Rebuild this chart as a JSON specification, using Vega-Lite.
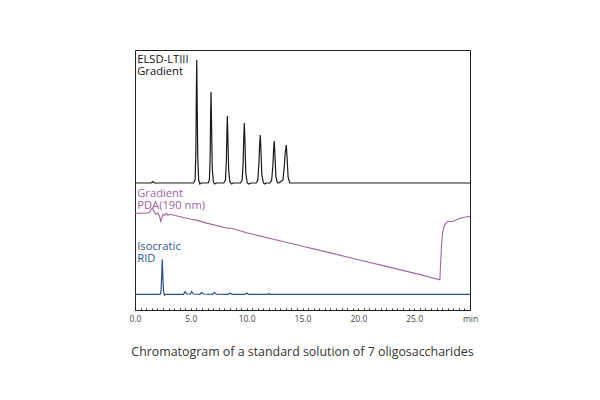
{
  "$schema": "https://vega.github.io/schema/vega-lite/v6.json",
  "width": 335,
  "height": 260,
  "autosize": {"type": "none"},
  "padding": {"left": 135, "top": 50, "right": 130, "bottom": 90},
  "background": "white",
  "config": {"view": {"stroke": "#222222", "strokeWidth": 1}, "font": "Open Sans"},
  "title": {"text": "Chromatogram of a standard solution of 7 oligosaccharides", "orient": "bottom", "anchor": "middle", "fontSize": 12.4, "fontWeight": "normal", "color": "#333333", "offset": 23, "font": "Open Sans"},
  "datasets": {
    "elsd": [
      {"t": 0, "v": 0}, {"t": 1.45, "v": 0}, {"t": 1.6, "v": 1.5}, {"t": 1.75, "v": 0},
      {"t": 5.25, "v": 0}, {"t": 5.38, "v": 3}, {"t": 5.45, "v": 30}, {"t": 5.49, "v": 85}, {"t": 5.53, "v": 123}, {"t": 5.57, "v": 80}, {"t": 5.62, "v": 25}, {"t": 5.7, "v": 3}, {"t": 5.8, "v": -1}, {"t": 5.95, "v": 0},
      {"t": 6.55, "v": 0}, {"t": 6.66, "v": 3}, {"t": 6.73, "v": 25}, {"t": 6.77, "v": 65}, {"t": 6.81, "v": 91}, {"t": 6.86, "v": 55}, {"t": 6.92, "v": 15}, {"t": 7.02, "v": 1}, {"t": 7.15, "v": -1}, {"t": 7.3, "v": 0},
      {"t": 7.95, "v": 0}, {"t": 8.1, "v": 3}, {"t": 8.18, "v": 22}, {"t": 8.23, "v": 50}, {"t": 8.27, "v": 67}, {"t": 8.32, "v": 45}, {"t": 8.39, "v": 12}, {"t": 8.5, "v": 1}, {"t": 8.65, "v": -1}, {"t": 8.8, "v": 0},
      {"t": 9.45, "v": 0}, {"t": 9.6, "v": 3}, {"t": 9.69, "v": 22}, {"t": 9.74, "v": 45}, {"t": 9.79, "v": 60}, {"t": 9.85, "v": 40}, {"t": 9.92, "v": 10}, {"t": 10.05, "v": 0}, {"t": 10.2, "v": -1}, {"t": 10.4, "v": 0},
      {"t": 10.85, "v": 0}, {"t": 11.0, "v": 3}, {"t": 11.1, "v": 20}, {"t": 11.16, "v": 38}, {"t": 11.22, "v": 48}, {"t": 11.28, "v": 32}, {"t": 11.36, "v": 8}, {"t": 11.5, "v": 0}, {"t": 11.62, "v": -1}, {"t": 11.75, "v": 0},
      {"t": 12.1, "v": 0}, {"t": 12.24, "v": 3}, {"t": 12.35, "v": 18}, {"t": 12.41, "v": 33}, {"t": 12.47, "v": 42}, {"t": 12.53, "v": 28}, {"t": 12.62, "v": 6}, {"t": 12.75, "v": 0},
      {"t": 12.88, "v": 0}, {"t": 13.0, "v": 1}, {"t": 13.25, "v": 3}, {"t": 13.38, "v": 18}, {"t": 13.45, "v": 30}, {"t": 13.55, "v": 38}, {"t": 13.62, "v": 25}, {"t": 13.71, "v": 6}, {"t": 13.85, "v": 0},
      {"t": 30, "v": 0}
    ],
    "pda": [
      {"t": 0, "v": 0}, {"t": 1.0, "v": 0}, {"t": 1.3, "v": 1}, {"t": 1.45, "v": 4}, {"t": 1.55, "v": 5}, {"t": 1.7, "v": 2}, {"t": 1.85, "v": -1}, {"t": 2.05, "v": 0},
      {"t": 2.2, "v": -3}, {"t": 2.3, "v": -8}, {"t": 2.4, "v": -5}, {"t": 2.5, "v": -1}, {"t": 2.65, "v": -2}, {"t": 2.8, "v": 0}, {"t": 2.95, "v": -2}, {"t": 3.13, "v": -1},
      {"t": 5.0, "v": -6.0}, {"t": 5.5, "v": -6.8}, {"t": 6.5, "v": -10.1}, {"t": 8.3, "v": -14.9}, {"t": 8.6, "v": -14.9}, {"t": 10, "v": -19.5}, {"t": 12.5, "v": -26.2},
      {"t": 15, "v": -32.9}, {"t": 17.5, "v": -39.6}, {"t": 20, "v": -46.4}, {"t": 22.5, "v": -53.1}, {"t": 25, "v": -59.8}, {"t": 27.3, "v": -66.5},
      {"t": 27.36, "v": -52}, {"t": 27.45, "v": -32}, {"t": 27.55, "v": -19}, {"t": 27.7, "v": -12}, {"t": 27.95, "v": -8.5}, {"t": 28.5, "v": -8},
      {"t": 29.0, "v": -5.5}, {"t": 29.5, "v": -4}, {"t": 30, "v": -3}
    ],
    "rid": [
      {"t": 0, "v": 0}, {"t": 2.25, "v": 0}, {"t": 2.33, "v": 3}, {"t": 2.39, "v": 18}, {"t": 2.44, "v": 35}, {"t": 2.49, "v": 20}, {"t": 2.55, "v": 4}, {"t": 2.63, "v": -1}, {"t": 2.75, "v": 0},
      {"t": 4.35, "v": 0}, {"t": 4.48, "v": 2.7}, {"t": 4.62, "v": 0.3}, {"t": 4.95, "v": 0.3}, {"t": 5.08, "v": 2.7}, {"t": 5.22, "v": 0.3},
      {"t": 5.82, "v": 0}, {"t": 5.97, "v": 2}, {"t": 6.12, "v": 0.3}, {"t": 6.95, "v": 0}, {"t": 7.1, "v": 2}, {"t": 7.28, "v": 0.2},
      {"t": 8.3, "v": 0}, {"t": 8.5, "v": 1.2}, {"t": 8.7, "v": 0}, {"t": 9.85, "v": 0}, {"t": 10.0, "v": 1.2}, {"t": 10.15, "v": 0},
      {"t": 11.9, "v": 0}, {"t": 12.0, "v": 0.8}, {"t": 12.1, "v": 0}, {"t": 30, "v": 0}
    ]
  },
  "resolve": {"scale": {"y": "independent"}, "axis": {"x": "independent", "y": "independent"}},
  "layer": [
    {
      "data": {"name": "elsd"},
      "mark": {"type": "line", "color": "#1a1a1a", "strokeWidth": 1.2},
      "encoding": {
        "x": {"field": "t", "type": "quantitative", "scale": {"domain": [0, 30], "nice": false, "zero": false},
          "axis": {"orient": "bottom", "values": [0,0.5,1,1.5,2,2.5,3,3.5,4,4.5,5,5.5,6,6.5,7,7.5,8,8.5,9,9.5,10,10.5,11,11.5,12,12.5,13,13.5,14,14.5,15,15.5,16,16.5,17,17.5,18,18.5,19,19.5,20,20.5,21,21.5,22,22.5,23,23.5,24,24.5,25,25.5,26,26.5,27,27.5,28,28.5,29,29.5,30],
            "labelExpr": "datum.value == 30 ? 'min' : (datum.value % 5 == 0 ? format(datum.value, '.1f') : '')",
            "labelOverlap": false, "labelFlush": false, "tickSize": -2, "tickColor": "#222222", "domainColor": "#222222",
            "labelFontSize": 8.5, "labelColor": "#444444", "labelPadding": 6, "grid": false, "title": null, "labelFont": "Open Sans"}},
        "y": {"field": "v", "type": "quantitative", "scale": {"domain": [-127, 133]}, "axis": null}
      }
    },
    {
      "data": {"name": "pda"},
      "mark": {"type": "line", "color": "#a0649e", "strokeWidth": 1.1},
      "encoding": {
        "x": {"field": "t", "type": "quantitative", "scale": {"domain": [0, 30], "nice": false, "zero": false}, "axis": null},
        "y": {"field": "v", "type": "quantitative", "scale": {"domain": [-96.7, 163.3]}, "axis": null}
      }
    },
    {
      "data": {"name": "rid"},
      "mark": {"type": "line", "color": "#2b4f8e", "strokeWidth": 1.2},
      "encoding": {
        "x": {"field": "t", "type": "quantitative", "scale": {"domain": [0, 30], "nice": false, "zero": false}, "axis": null},
        "y": {"field": "v", "type": "quantitative", "scale": {"domain": [-15.7, 244.3]}, "axis": null}
      }
    },
    {
      "data": {"values": [{}]},
      "mark": {"type": "text", "text": ["ELSD-LTIII", "Gradient"], "align": "left", "baseline": "alphabetic", "fontSize": 11.2, "lineHeight": 12.5, "color": "#111111", "font": "Open Sans"},
      "encoding": {
        "x": {"datum": 0.2, "type": "quantitative", "scale": {"domain": [0, 30], "nice": false, "zero": false}, "axis": null},
        "y": {"datum": 120.5, "type": "quantitative", "scale": {"domain": [-127, 133]}, "axis": null}
      }
    },
    {
      "data": {"values": [{}]},
      "mark": {"type": "text", "text": ["Gradient", "PDA(190 nm)"], "align": "left", "baseline": "alphabetic", "fontSize": 11.2, "lineHeight": 12.5, "color": "#a0609e", "font": "Open Sans"},
      "encoding": {
        "x": {"datum": 0.2, "type": "quantitative", "scale": {"domain": [0, 30], "nice": false, "zero": false}, "axis": null},
        "y": {"datum": 16.8, "type": "quantitative", "scale": {"domain": [-96.7, 163.3]}, "axis": null}
      }
    },
    {
      "data": {"values": [{}]},
      "mark": {"type": "text", "text": ["Isocratic", "RID"], "align": "left", "baseline": "alphabetic", "fontSize": 11.2, "lineHeight": 12.5, "color": "#2f5596", "font": "Open Sans"},
      "encoding": {
        "x": {"datum": 0.2, "type": "quantitative", "scale": {"domain": [0, 30], "nice": false, "zero": false}, "axis": null},
        "y": {"datum": 44.6, "type": "quantitative", "scale": {"domain": [-15.7, 244.3]}, "axis": null}
      }
    }
  ]
}
